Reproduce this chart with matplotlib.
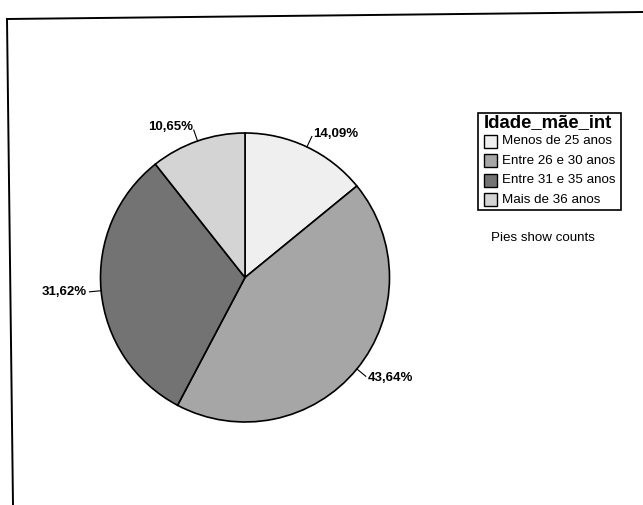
import numpy as np
import matplotlib
matplotlib.use("Agg")
import matplotlib.pyplot as plt
from matplotlib.lines import Line2D
from matplotlib.patches import Rectangle

# dados do grafico (percentagens)
categorias = ["Menos de 25 anos", "Entre 26 e 30 anos", "Entre 31 e 35 anos", "Mais de 36 anos"]
percentagens = [14.09, 43.64, 31.62, 10.65]
rotulos = ["14,09%", "43,64%", "31,62%", "10,65%"]
cores = ["#efefef", "#a6a6a6", "#737373", "#d4d4d4"]
titulo_legenda = "Idade_mãe_int"
nota = "Pies show counts"

W, H = 643, 505
fig = plt.figure(figsize=(W / 100, H / 100), dpi=100)
fig.patch.set_facecolor("white")
plt.rcParams["font.family"] = ["Liberation Sans", "DejaVu Sans"]

# moldura digitalizada (ligeiramente inclinada)
fig.add_artist(Line2D([7 / W, 1.0], [1 - 19 / H, 1 - 12 / H], color="black", lw=1.4))
fig.add_artist(Line2D([7 / W, 13 / W], [1 - 19 / H, 0.0], color="black", lw=1.4))

# eixo do grafico circular
cx, cy, r = 245, 277.5, 144.5
ax = fig.add_axes([(cx - r) / W, (H - cy - r) / H, 2 * r / W, 2 * r / H])
fatias, _ = ax.pie(percentagens, colors=cores, startangle=90, counterclock=False,
                   wedgeprops=dict(edgecolor="black", linewidth=1.2))
ax.set_xlim(-1, 1)
ax.set_ylim(-1, 1)
ax.set_aspect("equal")
ax.axis("off")

# rotulos com linhas de chamada
for fatia, texto in zip(fatias, rotulos):
    ang = np.deg2rad((fatia.theta1 + fatia.theta2) / 2)
    c, s = np.cos(ang), np.sin(ang)
    ax.plot([c, 1.08 * c], [s, 1.08 * s], color="black", lw=0.8, clip_on=False)
    ax.text(1.1 * c, 1.1 * s, texto, ha="left" if c > 0 else "right", va="center",
            fontsize=9.5, fontweight="bold", clip_on=False)

# legenda desenhada manualmente
lx0, ly0, lx1, ly1 = 478, 113, 621, 210
lax = fig.add_axes([0, 0, 1, 1], facecolor="none")
lax.set_xlim(0, W)
lax.set_ylim(H, 0)
lax.axis("off")
lax.add_patch(Rectangle((lx0, ly0), lx1 - lx0, ly1 - ly0, fill=False, edgecolor="black", lw=1.2))
lax.text(lx0 + 6, ly0 + 10, titulo_legenda, fontsize=13.3, fontweight="bold", va="center", ha="left")
for i, (nome, cor) in enumerate(zip(categorias, cores)):
    y = 141 + i * 19.6
    lax.add_patch(Rectangle((lx0 + 6, y - 6.5), 13, 13, facecolor=cor, edgecolor="black", lw=1.0))
    lax.text(lx0 + 24, y, nome, fontsize=9.6, va="center", ha="left")

lax.text(491, 238, nota, fontsize=9.6, va="center", ha="left")

fig.savefig("out.png", dpi=100)
